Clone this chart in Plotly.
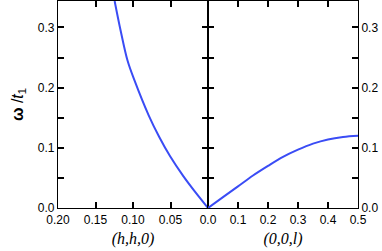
import plotly.graph_objects as go
from plotly.subplots import make_subplots

# (h,h,0) branch
h_vals = [0.0, 0.0195, 0.0327, 0.0503, 0.065, 0.0791, 0.098, 0.1073, 0.1166, 0.1245]
w_hh0 = [0.0, 0.0305, 0.0525, 0.0855, 0.118, 0.154, 0.212, 0.245, 0.2954, 0.344]

# (0,0,l) branch
l_vals = [0.0, 0.05, 0.1, 0.15, 0.2, 0.25, 0.3, 0.35, 0.4, 0.45, 0.5]
w_00l = [0.0, 0.018, 0.036, 0.054, 0.07, 0.085, 0.097, 0.107, 0.114, 0.118, 0.12]

left_ticks = [0.2, 0.15, 0.1, 0.05]
left_labels = ['0.20', '0.15', '0.10', '0.05']
right_ticks = [0.0, 0.1, 0.2, 0.3, 0.4, 0.5]
right_labels = ['0.0', '0.1', '0.2', '0.3', '0.4', '0.5']
y_ticks = [0.0, 0.05, 0.1, 0.15, 0.2, 0.25, 0.3]
y_labels = ['0.0', '', '0.1', '', '0.2', '', '0.3']

blue = '#3a4cf5'
tickfont = dict(family='Liberation Sans, Arial', size=12, color='black')
titlefont = dict(family='Liberation Serif, Times New Roman', size=16, color='black')

fig = make_subplots(rows=1, cols=2, horizontal_spacing=0)
fig.add_trace(go.Scatter(x=h_vals, y=w_hh0, mode='lines',
                         line=dict(color=blue, width=2, shape='spline')), row=1, col=1)
fig.add_trace(go.Scatter(x=l_vals, y=w_00l, mode='lines',
                         line=dict(color=blue, width=2, shape='spline')), row=1, col=2)

axis_common = dict(showline=True, linecolor='black', mirror='ticks', showticklabels=True,
                   ticks='inside', ticklen=6, tickwidth=1.5, tickcolor='black',
                   showgrid=False, zeroline=False, tickfont=tickfont, automargin=False)

fig.update_xaxes(range=[0.2, 0], tickvals=left_ticks, ticktext=left_labels, linewidth=1.4,
                 title=dict(text='<i>(h,h,0)</i>', font=titlefont, standoff=7),
                 **axis_common, row=1, col=1)
fig.update_xaxes(range=[0, 0.5], tickvals=right_ticks, ticktext=right_labels, linewidth=1.4,
                 title=dict(text='<i>(0,0,l)</i>', font=titlefont, standoff=7),
                 **axis_common, row=1, col=2)
fig.update_yaxes(range=[0, 0.344], tickvals=y_ticks, ticktext=y_labels, linewidth=1.1,
                 title=dict(text='<b>ω</b> /<i>t</i><sub>1</sub>',
                            font=dict(family='Liberation Sans, Arial', size=16, color='black'),
                            standoff=10),
                 **axis_common, row=1, col=1)
fig.update_yaxes(range=[0, 0.344], tickvals=y_ticks, ticktext=y_labels, side='right',
                 linewidth=1.1, **axis_common, row=1, col=2)

fig.update_layout(width=382, height=251, showlegend=False,
                  margin=dict(l=58, r=24, t=1, b=43),
                  plot_bgcolor='white', paper_bgcolor='white')
fig.write_html("out.html", config={'displayModeBar': False},
               post_script="document.body.style.margin='0';")
